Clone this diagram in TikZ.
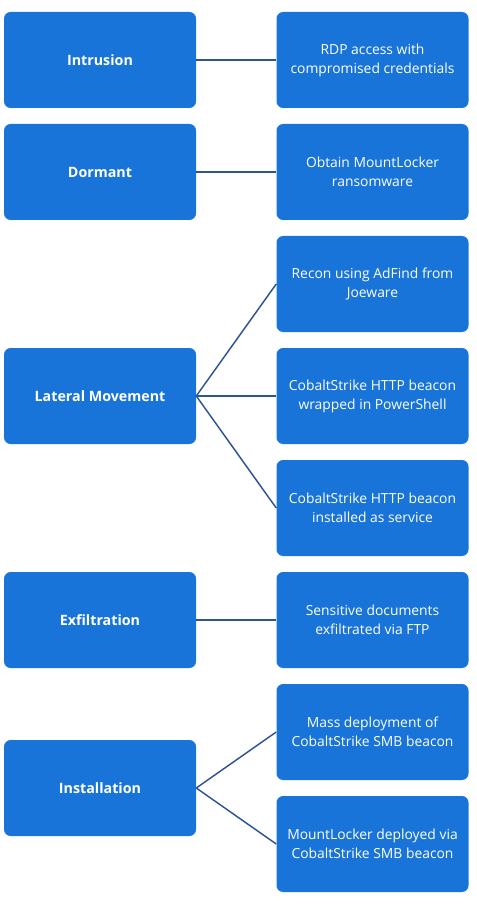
\documentclass[tikz,border=0pt]{standalone}
\usepackage{xcolor}
\usepackage{fontspec}
\setmainfont{Open Sans}
\usepackage{tikz}

\definecolor{boxblue}{RGB}{24,116,216}
\definecolor{linkblue}{RGB}{47,84,150}

\tikzset{
  phase/.style={draw=none,fill=boxblue,rounded corners=5pt,minimum width=144pt,minimum height=72pt,
    text=white,align=center,font=\fontsize{10.7}{14.2}\selectfont\bfseries,inner sep=0.75pt},
  detail/.style={phase,font=\fontsize{10.4}{14.2}\selectfont},
  link/.style={draw=linkblue,line width=1.1pt}
}

\begin{document}
\begin{tikzpicture}[x=0.75pt,y=0.75pt,yscale=-1,xscale=1]
\useasboundingbox (0,0) rectangle (476,905);

% Phase Nodes
\node [phase] (intrusion) at (100,60) {Intrusion};
\node [phase] (dormant) at (100,172) {Dormant};
\node [phase] (lateral) at (100,396) {Lateral Movement};
\node [phase] (exfil) at (100,620) {Exfiltration};
\node [phase] (install) at (100,788) {Installation};

% Detail Nodes
\node [detail] (rdp) at (372.5,60) {RDP access with\\compromised credentials};
\node [detail] (obtain) at (372.5,172) {Obtain MountLocker\\ransomware};
\node [detail] (recon) at (372.5,284) {Recon using AdFind from\\Joeware};
\node [detail] (psbeacon) at (372.5,396) {CobaltStrike HTTP beacon\\wrapped in PowerShell};
\node [detail] (svcbeacon) at (372.5,508) {CobaltStrike HTTP beacon\\installed as service};
\node [detail] (ftp) at (372.5,620) {Sensitive documents\\exfiltrated via FTP};
\node [detail] (smb) at (372.5,732) {Mass deployment of\\CobaltStrike SMB beacon};
\node [detail] (deploy) at (372.5,844) {MountLocker deployed via\\CobaltStrike SMB beacon};

% Links
\draw [link] (intrusion.east) -- (rdp.west);
\draw [link] (dormant.east) -- (obtain.west);
\foreach \t in {recon,psbeacon,svcbeacon}
  \draw [link] (lateral.east) -- (\t.west);
\draw [link] (exfil.east) -- (ftp.west);
\foreach \t in {smb,deploy}
  \draw [link] (install.east) -- (\t.west);

\end{tikzpicture}
\end{document}
